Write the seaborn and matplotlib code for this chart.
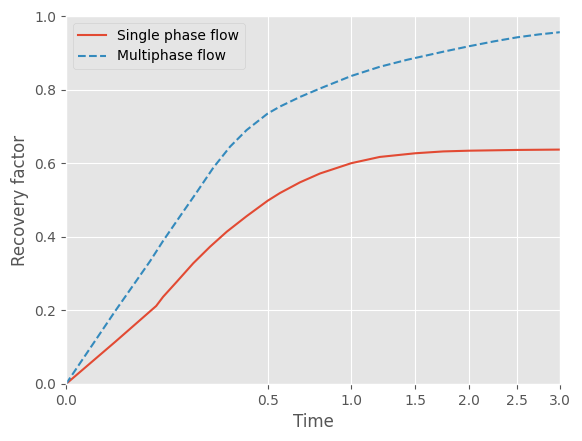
import numpy as np
import pandas as pd
import matplotlib
matplotlib.use("Agg")
import matplotlib.pyplot as plt
import seaborn as sns

# ggplot look, as in the reference
plt.style.use('ggplot')

# Single phase flow (time, recovery factor)
single_time = [0.0, 0.03, 0.1, 0.116, 0.151, 0.199, 0.255, 0.318, 0.401, 0.5,
               0.563, 0.673, 0.793, 1.0, 1.21, 1.5, 1.75, 2.0, 2.5, 3.0]
single_rf = [0.0, 0.115, 0.212, 0.237, 0.278, 0.328, 0.373, 0.414, 0.456, 0.498,
             0.519, 0.548, 0.572, 0.600, 0.617, 0.627, 0.632, 0.634, 0.636, 0.637]

# Multiphase flow
multi_time = [0.0, 0.03, 0.087, 0.116, 0.16, 0.21, 0.267, 0.331, 0.401, 0.5,
              0.563, 0.673, 0.793, 1.0, 1.21, 1.43, 1.75, 2.0, 2.25, 2.5, 2.75, 3.0]
multi_rf = [0.0, 0.199, 0.334, 0.389, 0.456, 0.521, 0.588, 0.645, 0.690, 0.735,
            0.754, 0.780, 0.803, 0.837, 0.862, 0.881, 0.903, 0.918, 0.931, 0.942,
            0.950, 0.956]

x_ticks = [0.0, 0.5, 1.0, 1.5, 2.0, 2.5, 3.0]

df_single = pd.DataFrame({'time': single_time, 'rf': single_rf})
df_multi = pd.DataFrame({'time': multi_time, 'rf': multi_rf})

fig = plt.figure(figsize=(5.82, 4.41), dpi=100)
ax = fig.add_axes([0.1134, 0.1293, 0.8488, 0.8344])

sns.lineplot(data=df_single, x='time', y='rf', ax=ax, color='#E24A33',
             linestyle='-', label='Single phase flow')
sns.lineplot(data=df_multi, x='time', y='rf', ax=ax, color='#348ABD',
             linestyle='--', label='Multiphase flow')

# square-root time axis
ax.set_xscale('function', functions=(lambda v: np.sqrt(np.clip(v, 0, None)), np.square))
ax.set_xlim(0, 3)
ax.set_ylim(0, 1)
ax.set_xticks(x_ticks)
ax.set_xticklabels([f'{t:.1f}' for t in x_ticks])
ax.set_yticks([0.0, 0.2, 0.4, 0.6, 0.8, 1.0])
ax.set_yticklabels(['0.0', '0.2', '0.4', '0.6', '0.8', '1.0'])

ax.set_xlabel('Time')
ax.set_ylabel('Recovery factor')
ax.legend(loc='upper left')

fig.savefig('out.png', dpi=100)
